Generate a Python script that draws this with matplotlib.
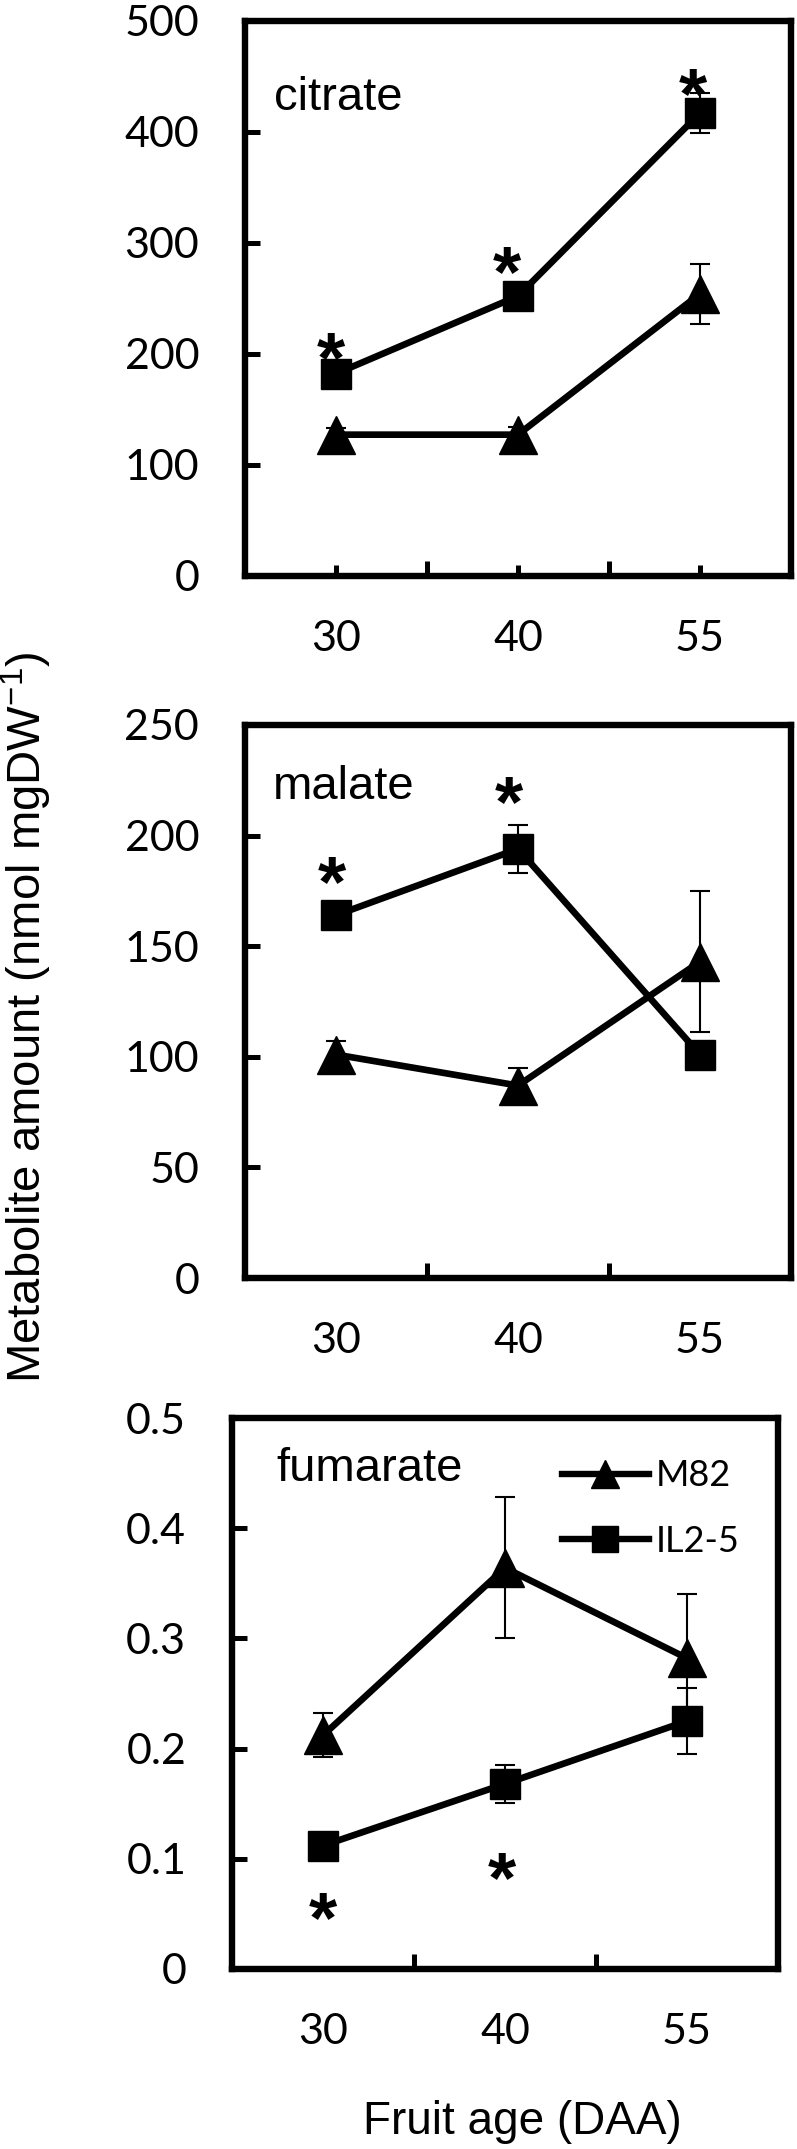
import matplotlib
matplotlib.use('Agg')
import matplotlib.pyplot as plt
from matplotlib.lines import Line2D

plt.rcParams['mathtext.fontset'] = 'custom'
plt.rcParams['mathtext.rm'] = 'Liberation Sans'
plt.rcParams['mathtext.it'] = 'Liberation Sans:italic'

# ---------------- data ----------------
days = ['30', '40', '55']
xpos = [0, 1, 2]

citrate_m82 = [127, 127, 254]
citrate_m82_err = [6, 7, 27]
citrate_il = [182, 252, 417]
citrate_il_err = [7, 6, 18]
citrate_star_x = [-0.03, 0.94, 1.96]
citrate_star_y = [212, 290, 450]

malate_m82 = [101, 87, 143]
malate_m82_err = [6, 8, 32]
malate_il = [164, 194, 101]
malate_il_err = [4, 11, 5]
malate_star_x = [-0.02, 0.95]
malate_star_y = [187, 223]

fumarate_m82 = [0.212, 0.364, 0.282]
fumarate_m82_err = [0.020, 0.064, 0.058]
fumarate_il = [0.112, 0.168, 0.225]
fumarate_il_err = [0.008, 0.017, 0.030]
fumarate_star_x = [0.0, 0.985]
fumarate_star_y = [0.062, 0.099]

citrate_yticks = [0, 100, 200, 300, 400, 500]
malate_yticks = [0, 50, 100, 150, 200, 250]
fumarate_yticks = [0, 0.1, 0.2, 0.3, 0.4, 0.5]
fumarate_yticklabels = ['0', '0.1', '0.2', '0.3', '0.4', '0.5']

series_names = ['M82', 'IL2-5']
# ---------------------------------------

W, H = 797, 2149
fig = plt.figure(figsize=(W / 100, H / 100), dpi=100)

def px_axes(left, right, top, bottom):
    return [left / W, 1 - bottom / H, (right - left) / W, (bottom - top) / H]

TICKFONT = 'Lato'
LABELFONT = 'Liberation Sans'

def setup(ax, yticks, yticklabels, ymax, center_ticks):
    ax.set_xlim(-0.5, 2.5)
    ax.set_ylim(0, ymax)
    ax.set_yticks(yticks)
    ax.set_yticklabels(yticklabels, fontfamily=TICKFONT, fontsize=31)
    ax.set_xticks(xpos)
    ax.set_xticklabels(days, fontfamily=TICKFONT, fontsize=31)
    ax.set_xticks([0.5, 1.5], minor=True)
    ax.tick_params(axis='y', direction='in', length=11, width=3.6, pad=33)
    ax.tick_params(axis='x', which='major', direction='in',
                   length=8 if center_ticks else 0, width=3.6, pad=32)
    ax.tick_params(axis='x', which='minor', direction='in', length=11, width=3.6)
    for s in ax.spines.values():
        s.set_linewidth(4.6)
        s.set_capstyle('projecting')

def draw_series(ax, m82, m82_err, il, il_err):
    ax.errorbar(xpos, m82, yerr=m82_err, fmt='none', ecolor='black',
                elinewidth=1.5, capsize=7, capthick=1.5, zorder=2)
    ax.errorbar(xpos, il, yerr=il_err, fmt='none', ecolor='black',
                elinewidth=1.5, capsize=7, capthick=1.5, zorder=2)
    ax.plot(xpos, m82, color='black', lw=4.8, marker='^', ms=27, mew=1,
            zorder=3, label=series_names[0])
    ax.plot(xpos, il, color='black', lw=4.8, marker='s', ms=21, mew=1,
            zorder=3, label=series_names[1])

def stars(ax, xs, ys):
    for x, y in zip(xs, ys):
        ax.annotate('*', xy=(x, y), xytext=(0, -30), textcoords='offset points',
                    ha='center', va='baseline', fontsize=52, fontweight='bold',
                    fontfamily=LABELFONT, zorder=4)

# panel 1: citrate
ax1 = fig.add_axes(px_axes(245, 791, 21, 575.5))
setup(ax1, citrate_yticks, [str(v) for v in citrate_yticks], 500, True)
draw_series(ax1, citrate_m82, citrate_m82_err, citrate_il, citrate_il_err)
stars(ax1, citrate_star_x, citrate_star_y)
ax1.text(0.053, 0.8395, 'citrate', transform=ax1.transAxes, ha='left',
         va='baseline', fontsize=34, fontfamily=LABELFONT)

# panel 2: malate
ax2 = fig.add_axes(px_axes(245, 791, 725, 1278))
setup(ax2, malate_yticks, [str(v) for v in malate_yticks], 250, False)
draw_series(ax2, malate_m82, malate_m82_err, malate_il, malate_il_err)
stars(ax2, malate_star_x, malate_star_y)
ax2.text(0.051, 0.867, 'malate', transform=ax2.transAxes, ha='left',
         va='baseline', fontsize=34, fontfamily=LABELFONT)

# panel 3: fumarate
ax3 = fig.add_axes(px_axes(232, 778, 1418, 1969))
setup(ax3, fumarate_yticks, fumarate_yticklabels, 0.5, False)
draw_series(ax3, fumarate_m82, fumarate_m82_err, fumarate_il, fumarate_il_err)
stars(ax3, fumarate_star_x, fumarate_star_y)
ax3.text(0.0806, 0.886, 'fumarate', transform=ax3.transAxes, ha='left',
         va='baseline', fontsize=34, fontfamily=LABELFONT)

handles = [Line2D([], [], color='black', lw=4.6, marker='^', ms=20, mew=1),
           Line2D([], [], color='black', lw=4.6, marker='s', ms=19, mew=1)]
ax3.legend(handles, series_names, loc='upper left', bbox_to_anchor=(0.604, 0.925),
           frameon=False, borderpad=0, borderaxespad=0, handlelength=2.42,
           handletextpad=0.17, labelspacing=0.9,
           prop={'family': TICKFONT, 'size': 26})

fig.text(26 / W, 1 - 1017 / H, r'Metabolite amount (nmol mgDW$^{\mathregular{-1}}$)',
         rotation=90, ha='center', va='center', fontsize=34, fontfamily=LABELFONT)
fig.text(522 / W, 1 - 2134 / H, 'Fruit age (DAA)', ha='center', va='baseline',
         fontsize=33, fontfamily=LABELFONT)

fig.savefig('out.png', dpi=100)
